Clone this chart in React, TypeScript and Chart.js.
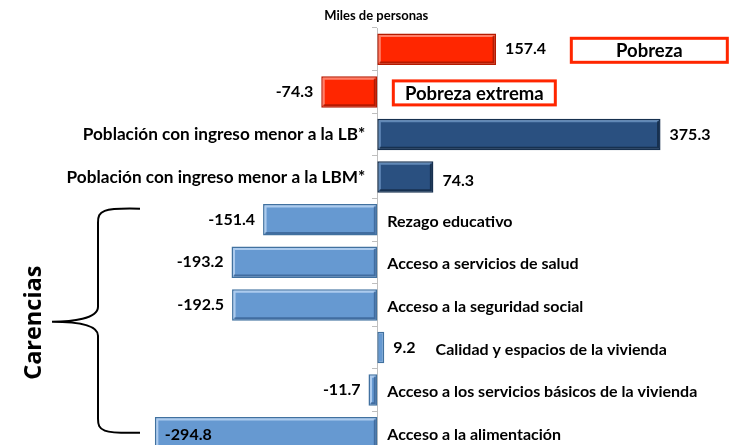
import React, { useEffect, useRef } from "react";
import { Chart, registerables } from "chart.js";
Chart.register(...registerables);

const categories = [
  "Pobreza",
  "Pobreza extrema",
  "Población con ingreso menor a la LB*",
  "Población con ingreso menor a la LBM*",
  "Rezago educativo",
  "Acceso a servicios de salud",
  "Acceso a la seguridad social",
  "Calidad y espacios de la vivienda",
  "Acceso a los servicios básicos de la vivienda",
  "Acceso a la alimentación",
];
const values = [157.4, -74.3, 375.3, 74.3, -151.4, -193.2, -192.5, 9.2, -11.7, -294.8];
const groups = [
  "pobreza", "pobreza", "ingreso", "ingreso",
  "carencia", "carencia", "carencia", "carencia", "carencia", "carencia",
];
const unitTitle = "Miles de personas";
const bracketLabel = "Carencias";

const fillColors: Record<string, string> = {
  pobreza: "#FF2600",
  ingreso: "#2A5080",
  carencia: "#6699D1",
};
const borderColors: Record<string, string> = {
  pobreza: "#B51A00",
  ingreso: "#17304F",
  carencia: "#41719F",
};
const lightEdge: Record<string, string> = {
  pobreza: "rgba(255,150,130,0.8)",
  ingreso: "rgba(120,160,205,0.7)",
  carencia: "rgba(190,215,245,0.8)",
};
const darkEdge: Record<string, string> = {
  pobreza: "rgba(150,20,0,0.7)",
  ingreso: "rgba(15,35,60,0.7)",
  carencia: "rgba(50,90,140,0.7)",
};

const FONT = "Lato, 'Open Sans', sans-serif";

const bevelPlugin = {
  id: "bevel",
  afterDatasetsDraw(chart: any) {
    const ctx = chart.ctx;
    const meta = chart.getDatasetMeta(0);
    ctx.save();
    meta.data.forEach((bar: any, i: number) => {
      const { x, y, base, height } = bar.getProps(["x", "y", "base", "height"], true);
      const l = Math.min(x, base) + 1.5;
      const r = Math.max(x, base) - 1.5;
      const t = y - height / 2 + 1.5;
      const b = y + height / 2 - 1.5;
      if (r - l < 4) return;
      const g = groups[i];
      ctx.lineWidth = 2;
      ctx.strokeStyle = lightEdge[g];
      ctx.beginPath();
      ctx.moveTo(l + 1, b - 1);
      ctx.lineTo(l + 1, t + 1);
      ctx.lineTo(r - 1, t + 1);
      ctx.stroke();
      ctx.strokeStyle = darkEdge[g];
      ctx.beginPath();
      ctx.moveTo(r - 1, t + 1);
      ctx.lineTo(r - 1, b - 1);
      ctx.lineTo(l + 1, b - 1);
      ctx.stroke();
    });
    ctx.restore();
  },
};

const labelsPlugin = {
  id: "customLabels",
  afterDatasetsDraw(chart: any) {
    const ctx = chart.ctx;
    const xs = chart.scales.x;
    const ys = chart.scales.y;
    const x0 = xs.getPixelForValue(0);
    const meta = chart.getDatasetMeta(0);
    ctx.save();
    ctx.fillStyle = "#000";
    ctx.textBaseline = "middle";

    ctx.font = `bold 13px ${FONT}`;
    ctx.textAlign = "center";
    ctx.fillText(unitTitle, x0 - 1, 16);

    meta.data.forEach((bar: any, i: number) => {
      const v = values[i];
      const cy = bar.y;
      const end = bar.x;
      const vt = v.toFixed(1);
      const g = groups[i];
      ctx.fillStyle = "#000";
      ctx.font = `bold 16px ${FONT}`;
      let valueEnd = end;
      if (i === values.length - 1) {
        ctx.textAlign = "left";
        ctx.fillText(vt, end + 10, cy + 2);
      } else if (v >= 0) {
        ctx.textAlign = "left";
        ctx.fillText(vt, end + 9, cy + (g === "ingreso" && i === 3 ? 4 : 0));
        valueEnd = end + 9 + ctx.measureText(vt).width;
      } else {
        ctx.textAlign = "right";
        ctx.fillText(vt, end - 8, cy);
      }

      if (g === "pobreza") {
        const bx = i === 0 ? x0 + 194 : x0 + 16;
        const bw = i === 0 ? 156 : 162;
        const bh = 24;
        ctx.strokeStyle = "#FF2600";
        ctx.lineWidth = 3;
        ctx.strokeRect(bx, cy - bh / 2 + 1, bw, bh);
        ctx.font = `bold 18.5px ${FONT}`;
        ctx.textAlign = "center";
        ctx.fillText(categories[i], bx + bw / 2, cy + 2);
      } else if (g === "ingreso") {
        ctx.font = `bold 17.2px ${FONT}`;
        ctx.textAlign = "right";
        ctx.fillText(categories[i], x0 - 12, cy);
      } else {
        ctx.font = `bold 16px ${FONT}`;
        ctx.textAlign = "left";
        const lx = v >= 0 ? valueEnd + 20 : x0 + 10;
        ctx.fillText(categories[i], lx, cy + 2);
      }
    });

    const firstC = groups.indexOf("carencia");
    const lastC = groups.lastIndexOf("carencia");
    const top = ys.getPixelForValue(firstC) - 11;
    const bot = ys.getPixelForValue(lastC);
    const mid = (top + bot) / 2;
    const armX = 140;
    const vx = 98;
    const tipX = 52;
    ctx.strokeStyle = "#000";
    ctx.lineWidth = 2;
    ctx.beginPath();
    ctx.moveTo(armX, top);
    ctx.bezierCurveTo(vx + 4, top - 1, vx, top + 2, vx, top + 14);
    ctx.lineTo(vx, mid - 14);
    ctx.bezierCurveTo(vx, mid - 2, tipX + 20, mid + 1, tipX, mid + 1);
    ctx.bezierCurveTo(tipX + 20, mid + 1, vx, mid + 3, vx, mid + 15);
    ctx.lineTo(vx, bot - 14);
    ctx.bezierCurveTo(vx, bot - 2, vx + 4, bot + 1, armX, bot);
    ctx.stroke();

    ctx.save();
    ctx.translate(34, mid + 2);
    ctx.rotate(-Math.PI / 2);
    ctx.font = `bold 23.5px 'Open Sans', Lato, sans-serif`;
    ctx.textAlign = "center";
    ctx.fillStyle = "#000";
    ctx.fillText(bracketLabel, 0, 0);
    ctx.restore();

    ctx.restore();
  },
};

export default function App() {
  const ref = useRef<HTMLCanvasElement>(null);
  useEffect(() => {
    if (!ref.current) return;
    const chart = new Chart(ref.current, {
      type: "bar",
      data: {
        labels: categories,
        datasets: [
          {
            data: values,
            backgroundColor: groups.map((g) => fillColors[g]),
            borderColor: groups.map((g) => borderColors[g]),
            borderWidth: 1.5,
            borderSkipped: false,
            barPercentage: 0.74,
            categoryPercentage: 1,
          },
        ],
      },
      options: {
        indexAxis: "y",
        animation: false,
        responsive: false,
        maintainAspectRatio: false,
        layout: { padding: { top: 28, bottom: 0, left: 0, right: 0 } },
        plugins: {
          legend: { display: false },
          tooltip: { enabled: false },
          title: { display: false },
        },
        scales: {
          x: {
            type: "linear",
            min: -500,
            max: 470,
            display: false,
          },
          y: {
            position: { x: 0 } as any,
            ticks: { display: false },
            grid: {
              drawOnChartArea: false,
              drawTicks: true,
              tickLength: 5,
              color: "#BFBFBF",
            },
            border: { display: true, color: "#BFBFBF", width: 1 },
          },
        },
      },
      plugins: [bevelPlugin, labelsPlugin],
    });
    return () => chart.destroy();
  }, []);
  return (
    <div
      style={{
        position: "fixed",
        left: 0,
        top: 0,
        width: 732,
        height: 445,
        overflow: "hidden",
        background: "#fff",
      }}
    >
      <canvas ref={ref} width={732} height={454} style={{ display: "block" }} />
    </div>
  );
}
